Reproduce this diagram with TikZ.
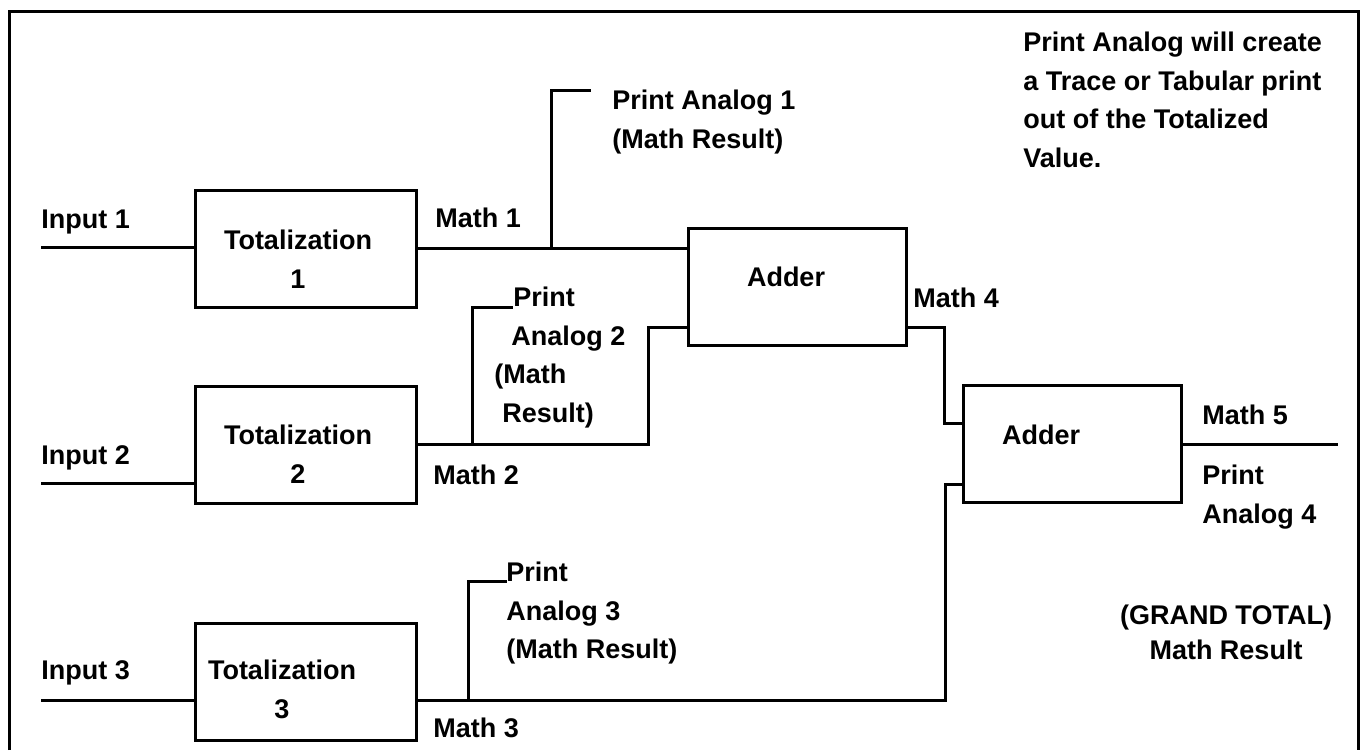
\documentclass[tikz,border=0pt]{standalone}
\usepackage{fontspec}
\setmainfont{Liberation Sans}

\begin{document}
\begin{tikzpicture}[x=0.5pt, y=-0.5pt]
      \tikzset{
  block/.style={
    rectangle, draw, line width=1.5pt,
    minimum width=110.5pt, minimum height=58.5pt, inner sep=0pt
  },
  adder/.style={block, minimum width=109pt},
  wire/.style={line width=1.5pt},
  lbl/.style={font=\fontsize{13.5}{19.25}\bfseries\selectfont, anchor=west,
    inner sep=0pt, text height=9.7pt, text depth=0pt},
  note/.style={font=\fontsize{13.5}{19.25}\bfseries\selectfont, anchor=north west,
    inner sep=0pt, align=left},
}

\useasboundingbox (0,0) rectangle (1363,750);

%% ---- FRAME ----
\draw[wire] (9,750) -- (9,11) -- (1358,11) -- (1358,750);

%% ---- BLOCKS ----
\node[block] (tot1) at (305.5,248.5) {};
\node[block] (tot2) at (305.5,444.5) {};
\node[block] (tot3) at (305.5,682)   {};
\node[adder] (add1) at (797,286.5)   {};
\node[adder] (add2) at (1072.5,444)  {};

\node[note, anchor=north, align=center] (tot1txt) at (298,230) {Totalization\\1};
\node[note, anchor=north, align=center] (tot2txt) at (298,425) {Totalization\\2};
\node[note, anchor=north, align=center] (tot3txt) at (282,660) {Totalization\\3};
\node[lbl, anchor=center] (add1txt) at (786,277)  {Adder};
\node[lbl, anchor=center] (add2txt) at (1041,435) {Adder};

%% ---- INPUTS ----
\coordinate (in1) at (41,247);
\coordinate (in2) at (41,483);
\coordinate (in3) at (41,700);
\draw[wire] (in1) -- (in1 -| tot1.west);
\draw[wire] (in2) -- (in2 -| tot2.west);
\draw[wire] (in3) -- (in3 -| tot3.west);

\node[lbl] (in1lbl) at (41,219) {Input 1};
\node[lbl] (in2lbl) at (41,455) {Input 2};
\node[lbl] (in3lbl) at (41,670) {Input 3};

%% ---- MATH 1 / 2 / 3 ----
\draw[wire] (tot1.east) -- (tot1.east -| add1.west);

\coordinate (m2up) at (648,327);
\coordinate (a1lo) at (add1.west |- m2up);
\draw[wire] (tot2.east) -| (m2up) -- (a1lo);

\coordinate (m3out) at (tot3.east |- in3);
\coordinate (m3up)  at (945,484);
\coordinate (a2lo)  at (add2.west |- m3up);
\draw[wire] (m3out) -| (m3up) -- (a2lo);

\node[lbl] (m1lbl) at (435,218) {Math 1};
\node[lbl] (m2lbl) at (433,475) {Math 2};
\node[lbl] (m3lbl) at (433,728) {Math 3};

%% ---- PRINT TAPS ----
\coordinate (tap1)   at (551,0 |- tot1.east);
\coordinate (pa1end) at (591,90);
\draw[wire] (tap1) |- (pa1end);

\coordinate (tap2)   at (472,0 |- tot2.east);
\coordinate (pa2end) at (513,307);
\draw[wire] (tap2) |- (pa2end);

\coordinate (tap3)   at (468,0 |- m3out);
\coordinate (pa3end) at (507,581);
\draw[wire] (tap3) |- (pa3end);

\node[note] (pa1) at (612,90)  {Print Analog 1\\(Math Result)};
\node[note] (pa2) at (494,287) {\hspace*{9.5pt}Print\\\hspace*{8.5pt}Analog 2\\(Math\\\hspace*{4pt}Result)};
\node[note] (pa3) at (506,562) {Print\\Analog 3\\(Math Result)};

%% ---- MATH 4 / 5 ----
\coordinate (a1out)  at (add1.east |- a1lo);
\coordinate (m4down) at (944,423);
\coordinate (a2hi)   at (add2.west |- m4down);
\draw[wire] (a1out) -| (m4down) -- (a2hi);

\coordinate (out5) at (1338,0 |- add2.east);
\draw[wire] (add2.east) -- (out5);

\node[lbl] (m4lbl) at (913,298)  {Math 4};
\node[lbl] (m5lbl) at (1202,415) {Math 5};
\node[note] (pa4) at (1202,465) {Print\\Analog 4};

%% ---- NOTES ----
\node[note] (info) at (1023,32) {Print Analog will create\\a Trace or Tabular print\\out of the Totalized\\Value.};
\node[note, anchor=north, align=center, font=\fontsize{13.5}{17.5}\bfseries\selectfont]
  (grand) at (1226,605) {(GRAND TOTAL)\\Math Result};

    \end{tikzpicture}
\end{document}
